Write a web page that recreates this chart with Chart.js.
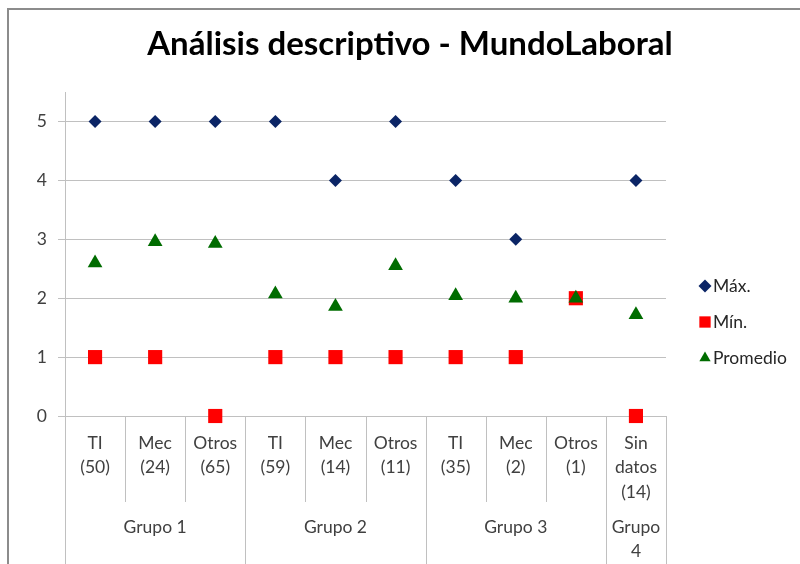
<!DOCTYPE html>
<html>
<head>
<meta charset="utf-8">
<script src="https://cdn.jsdelivr.net/npm/chart.js@4/dist/chart.umd.min.js"></script>
<style>
  body { margin: 0; background: #fff; }
  #wrap { position: relative; width: 800px; height: 564px; overflow: hidden; }
  #frame { position: absolute; left: 7px; top: 8px; width: 900px; height: 700px;
           border-left: 2px solid #8c8c8c; border-top: 2px solid #8c8c8c; }
  canvas { position: absolute; left: 0; top: 0; }
</style>
</head>
<body>
<div id="wrap">
  <div id="frame"></div>
  <canvas id="chart" width="800" height="564"></canvas>
</div>
<script>
var categories = [["TI","(50)"],["Mec","(24)"],["Otros","(65)"],["TI","(59)"],["Mec","(14)"],["Otros","(11)"],["TI","(35)"],["Mec","(2)"],["Otros","(1)"],["Sin","datos","(14)"]];
var groupNames = ["Grupo 1","Grupo 2","Grupo 3","Grupo\n4"];
var groupSizes = [3, 3, 3, 1];
var maxValues = [5, 5, 5, 5, 4, 5, 4, 3, 2, 4];
var minValues = [1, 1, 0, 1, 1, 1, 1, 1, 2, 0];
var avgValues = [2.60, 2.96, 2.93, 2.07, 1.86, 2.55, 2.04, 2.00, 2.00, 1.72];
var yTicks = [0, 1, 2, 3, 4, 5];

var FONT = "Lato, 'Open Sans', sans-serif";
var TXT = "#404040";
var LINE = "#c0c0c0";

function marker(ctx, style, x, y, r, color) {
  ctx.save();
  ctx.fillStyle = color;
  ctx.beginPath();
  if (style == "rectRot") {
    ctx.moveTo(x - r, y); ctx.lineTo(x, y - r); ctx.lineTo(x + r, y); ctx.lineTo(x, y + r);
  } else if (style == "rect") {
    var s = r * Math.SQRT1_2;
    ctx.rect(x - s, y - s, 2 * s, 2 * s);
  } else {
    ctx.moveTo(x, y - r);
    ctx.lineTo(x + r * 0.866, y + r * 0.5);
    ctx.lineTo(x - r * 0.866, y + r * 0.5);
  }
  ctx.closePath();
  ctx.fill();
  ctx.restore();
}

// separators, group labels and legend
var extras = {
  id: "extras",
  afterDraw: function(chart) {
    var ctx = chart.ctx;
    var xs = chart.scales.x;
    var n = categories.length;
    var w = (xs.right - xs.left) / n;
    var top = chart.chartArea.bottom;
    var bounds = [0];
    groupSizes.forEach(function(s){ bounds.push(bounds[bounds.length - 1] + s); });

    ctx.save();
    ctx.strokeStyle = LINE;
    ctx.lineWidth = 1;
    for (var i = 0; i <= n; i++) {
      var x = Math.round(xs.getPixelForValue(i) - w / 2) + 0.5;
      if (i == n) x = Math.round(xs.getPixelForValue(n - 1) + w / 2) + 0.5;
      var isGroup = bounds.indexOf(i) >= 0;
      ctx.beginPath();
      ctx.moveTo(x, top);
      ctx.lineTo(x, isGroup ? 564 : 502);
      ctx.stroke();
    }

    ctx.fillStyle = TXT;
    ctx.font = "17.5px " + FONT;
    ctx.textAlign = "center";
    ctx.textBaseline = "middle";
    for (var g = 0; g < groupNames.length; g++) {
      var x0 = xs.getPixelForValue(bounds[g]) - w / 2;
      var x1 = xs.getPixelForValue(bounds[g + 1] - 1) + w / 2;
      var lines = groupNames[g].split("\n");
      for (var k = 0; k < lines.length; k++) {
        ctx.fillText(lines[k], (x0 + x1) / 2, 527 + k * 24.5);
      }
    }

    // legend
    ctx.textAlign = "left";
    chart.data.datasets.forEach(function(ds, j) {
      var ly = 286 + j * 36;
      marker(ctx, ds.pointStyle, 705, ly, ds.pointStyle == "rect" ? 8 : 6.5, ds.backgroundColor);
      ctx.fillStyle = "#262626";
      ctx.fillText(ds.label, 713, ly);
    });
    ctx.restore();
  }
};

new Chart(document.getElementById("chart"), {
  type: "line",
  data: {
    labels: categories,
    datasets: [
      { label: "Máx.", data: maxValues, showLine: false, pointStyle: "rectRot",
        pointRadius: 6.5, pointHoverRadius: 6.5, borderWidth: 0,
        backgroundColor: "#0b2566", borderColor: "#0b2566", order: 3, clip: false },
      { label: "Mín.", data: minValues, showLine: false, pointStyle: "rect",
        pointRadius: 10, pointHoverRadius: 10, borderWidth: 0,
        backgroundColor: "#ff0000", borderColor: "#ff0000", order: 2, clip: false },
      { label: "Promedio", data: avgValues, showLine: false, pointStyle: "triangle",
        pointRadius: 8.5, pointHoverRadius: 8.5, borderWidth: 0,
        backgroundColor: "#006c00", borderColor: "#006c00", order: 1, clip: false }
    ]
  },
  options: {
    responsive: false,
    animation: false,
    events: [],
    layout: { padding: { left: 20, right: 0, top: 0, bottom: 0 } },
    plugins: {
      legend: { display: false },
      tooltip: { enabled: false },
      title: {
        display: true,
        text: "Análisis descriptivo - MundoLaboral",
        color: "#000",
        font: { family: FONT, size: 33, weight: "bold" },
        padding: { top: 25, bottom: 27.5 }
      }
    },
    scales: {
      x: {
        offset: true,
        grid: { display: false, drawTicks: false },
        border: { display: false },
        ticks: {
          autoSkip: false, maxRotation: 0, padding: 15,
          color: TXT, font: { family: FONT, size: 17.5, lineHeight: 1.4 }
        },
        afterFit: function(s) { s.height = 148; }
      },
      y: {
        min: 0, max: 5.5,
        afterBuildTicks: function(s) {
          s.ticks = yTicks.map(function(v){ return { value: v }; });
        },
        grid: { color: LINE, tickLength: 7 },
        border: { display: true, color: LINE },
        ticks: { padding: 11, color: TXT, font: { family: FONT, size: 17.5 } },
        afterFit: function(s) { s.width = 45; }
      },
      // empty right-hand space where the legend sits
      side: {
        position: "right",
        grid: { display: false, drawTicks: false },
        border: { display: false },
        ticks: { display: false },
        afterFit: function(s) { s.width = 134; }
      }
    }
  },
  plugins: [extras]
});
</script>
</body>
</html>
